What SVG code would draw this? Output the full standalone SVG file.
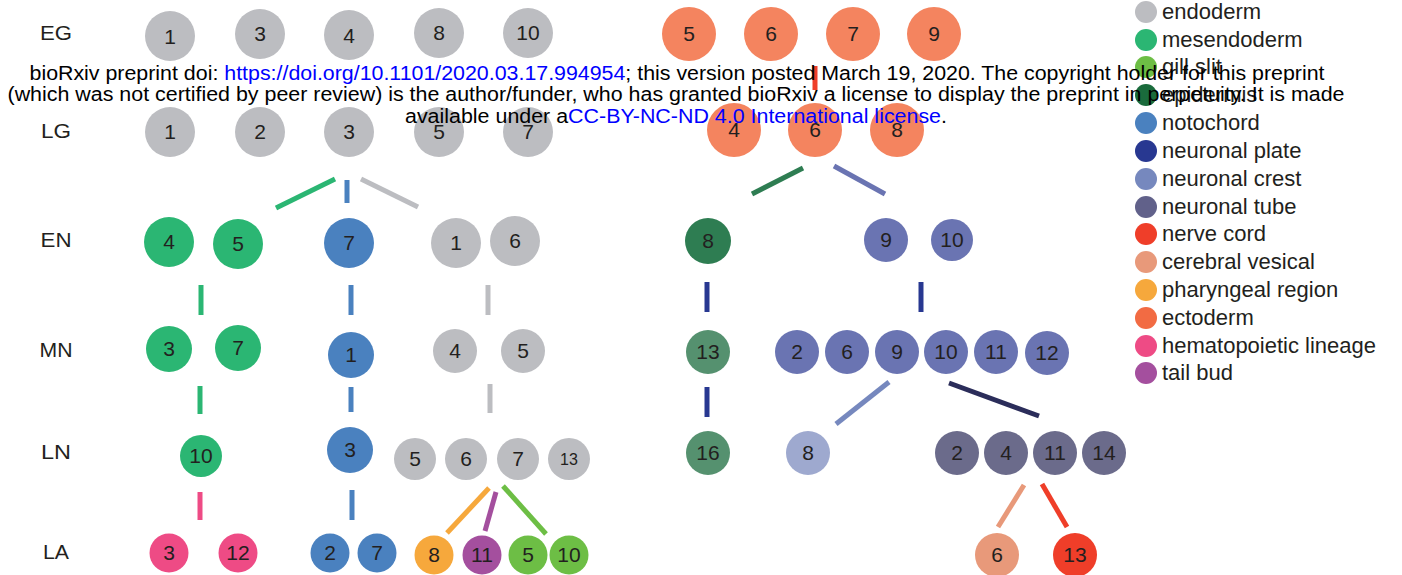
<svg xmlns="http://www.w3.org/2000/svg" width="1402" height="575" viewBox="0 0 1402 575">
<style>
text{font-family:"Liberation Sans",Arial,sans-serif;fill:#231f20}
.n text{font-size:21px;text-anchor:middle}
.lab{font-size:20px;text-anchor:middle}
.lg{font-size:22px}
.hd{font-size:20px;text-anchor:middle;fill:#000}
.ln{fill:#0000ff}
.c line{stroke-width:5;fill:none}
.en{fill:#bcbdc1}.me{fill:#2bb673}.gs{fill:#6dbe45}.ep{fill:#1a6b3c}.no{fill:#4a81bf}.np{fill:#283891}.nc{fill:#7688be}.nt{fill:#61618a}.cd{fill:#ef3e29}.cv{fill:#e8997a}.ph{fill:#f6a83c}.ec{fill:#f26b43}.he{fill:#ee4b85}.tb{fill:#a44f9e}
.ecn{fill:#f4845f}.epn{fill:#2e7d52}.epl{fill:#55916f}.ncm{fill:#6a74b2}.ncl{fill:#9ea9cf}.ntn{fill:#6b6b8b}
</style>
<rect width="1402" height="575" fill="#fff"/>
<g id="row-labels">
<text class="lab" x="56" y="40" textLength="32" lengthAdjust="spacingAndGlyphs">EG</text>
<text class="lab" x="56" y="138" textLength="30" lengthAdjust="spacingAndGlyphs">LG</text>
<text class="lab" x="56" y="247" textLength="31" lengthAdjust="spacingAndGlyphs">EN</text>
<text class="lab" x="56" y="357" textLength="33" lengthAdjust="spacingAndGlyphs">MN</text>
<text class="lab" x="56" y="459" textLength="30" lengthAdjust="spacingAndGlyphs">LN</text>
<text class="lab" x="56" y="559" textLength="26" lengthAdjust="spacingAndGlyphs">LA</text>
</g>
<g id="connectors" class="c">
<line x1="815" y1="66" x2="815" y2="90" stroke="#ef3e29" stroke-width="3"/>
<line x1="276" y1="208" x2="335" y2="179" stroke="#2bb673"/>
<line x1="347" y1="180" x2="347" y2="203" stroke="#4a81bf"/>
<line x1="361" y1="179" x2="418" y2="207" stroke="#bcbdc1"/>
<line x1="752" y1="194" x2="803" y2="168" stroke="#2e7d52"/>
<line x1="834" y1="166" x2="885" y2="194" stroke="#6a74b2"/>
<line x1="201" y1="285" x2="201" y2="315" stroke="#2bb673"/>
<line x1="351" y1="285" x2="351" y2="315" stroke="#4a81bf"/>
<line x1="488" y1="285" x2="488" y2="315" stroke="#bcbdc1"/>
<line x1="707" y1="282" x2="707" y2="312" stroke="#283891"/>
<line x1="921" y1="282" x2="921" y2="312" stroke="#283891"/>
<line x1="200" y1="386" x2="200" y2="414" stroke="#2bb673"/>
<line x1="351" y1="387" x2="351" y2="412" stroke="#4a81bf"/>
<line x1="490" y1="384" x2="490" y2="413" stroke="#bcbdc1"/>
<line x1="707" y1="387" x2="707" y2="417" stroke="#283891"/>
<line x1="889" y1="382" x2="836" y2="424" stroke="#7688be"/>
<line x1="949" y1="383" x2="1039" y2="416" stroke="#2b2d5a"/>
<line x1="200" y1="492" x2="200" y2="520" stroke="#ee4b85"/>
<line x1="352" y1="490" x2="352" y2="520" stroke="#4a81bf"/>
<line x1="489" y1="488" x2="447" y2="533" stroke="#f6a83c"/>
<line x1="496" y1="492" x2="485" y2="531" stroke="#a44f9e"/>
<line x1="503" y1="486" x2="546" y2="534" stroke="#6dbe45"/>
<line x1="1024" y1="485" x2="998" y2="527" stroke="#e8997a"/>
<line x1="1042" y1="484" x2="1067" y2="527" stroke="#ef3e29"/>
</g>
<g class="n">
<g id="eg1"><circle class="en" cx="170" cy="36" r="25"/><text x="170" y="44">1</text></g>
<g id="eg3"><circle class="en" cx="260" cy="34" r="25"/><text x="260" y="41">3</text></g>
<g id="eg4"><circle class="en" cx="349" cy="35" r="25"/><text x="349" y="43">4</text></g>
<g id="eg8"><circle class="en" cx="439" cy="33" r="25"/><text x="439" y="40">8</text></g>
<g id="eg10"><circle class="en" cx="528" cy="33" r="25"/><text x="528" y="40">10</text></g>
<g id="eg5"><circle class="ecn" cx="689" cy="34" r="27"/><text x="689" y="41">5</text></g>
<g id="eg6"><circle class="ecn" cx="771" cy="34" r="27"/><text x="771" y="41">6</text></g>
<g id="eg7"><circle class="ecn" cx="853" cy="34" r="27"/><text x="853" y="41">7</text></g>
<g id="eg9"><circle class="ecn" cx="934" cy="34" r="27"/><text x="934" y="41">9</text></g>
<g id="lg1"><circle class="en" cx="170" cy="132" r="25"/><text x="170" y="139">1</text></g>
<g id="lg2"><circle class="en" cx="260" cy="132" r="25"/><text x="260" y="139">2</text></g>
<g id="lg3"><circle class="en" cx="349" cy="132" r="25"/><text x="349" y="139">3</text></g>
<g id="lg5"><circle class="en" cx="439" cy="132" r="25"/><text x="439" y="139">5</text></g>
<g id="lg7"><circle class="en" cx="528" cy="132" r="25"/><text x="528" y="139">7</text></g>
<g id="lg4"><circle class="ecn" cx="734" cy="130" r="27"/><text x="734" y="137">4</text></g>
<g id="lg6"><circle class="ecn" cx="815" cy="130" r="27"/><text x="815" y="137">6</text></g>
<g id="lg8"><circle class="ecn" cx="897" cy="130" r="27"/><text x="897" y="137">8</text></g>
<g id="en4"><circle class="me" cx="169" cy="242" r="25"/><text x="169" y="249">4</text></g>
<g id="en5"><circle class="me" cx="238" cy="244" r="25"/><text x="238" y="251">5</text></g>
<g id="en7"><circle class="no" cx="349" cy="243" r="25"/><text x="349" y="250">7</text></g>
<g id="en1"><circle class="en" cx="456" cy="243" r="25"/><text x="456" y="250">1</text></g>
<g id="en6"><circle class="en" cx="515" cy="241" r="25"/><text x="515" y="248">6</text></g>
<g id="en8"><circle class="epn" cx="708" cy="241" r="23"/><text x="708" y="248">8</text></g>
<g id="en9"><circle class="ncm" cx="886" cy="240" r="22"/><text x="886" y="247">9</text></g>
<g id="en10"><circle class="ncm" cx="952" cy="240" r="21"/><text x="952" y="247">10</text></g>
<g id="mn3"><circle class="me" cx="169" cy="349" r="23"/><text x="169" y="356">3</text></g>
<g id="mn7"><circle class="me" cx="238" cy="348" r="23"/><text x="238" y="355">7</text></g>
<g id="mn1"><circle class="no" cx="351" cy="355" r="23"/><text x="351" y="362">1</text></g>
<g id="mn4"><circle class="en" cx="455" cy="351" r="22"/><text x="455" y="358">4</text></g>
<g id="mn5"><circle class="en" cx="523" cy="351" r="22"/><text x="523" y="358">5</text></g>
<g id="mn13"><circle class="epl" cx="708" cy="352" r="22"/><text x="708" y="359">13</text></g>
<g id="mn2"><circle class="ncm" cx="797" cy="352" r="22"/><text x="797" y="359">2</text></g>
<g id="mn6"><circle class="ncm" cx="847" cy="352" r="22"/><text x="847" y="359">6</text></g>
<g id="mn9"><circle class="ncm" cx="897" cy="352" r="22"/><text x="897" y="359">9</text></g>
<g id="mn10"><circle class="ncm" cx="946" cy="352" r="22"/><text x="946" y="359">10</text></g>
<g id="mn11"><circle class="ncm" cx="996" cy="352" r="22"/><text x="996" y="359">11</text></g>
<g id="mn12"><circle class="ncm" cx="1047" cy="353" r="22"/><text x="1047" y="360">12</text></g>
<g id="ln10"><circle class="me" cx="201" cy="456" r="21"/><text x="201" y="463">10</text></g>
<g id="ln3"><circle class="no" cx="350" cy="450" r="23"/><text x="350" y="457">3</text></g>
<g id="ln5"><circle class="en" cx="415" cy="459" r="21"/><text x="415" y="466">5</text></g>
<g id="ln6"><circle class="en" cx="466" cy="459" r="21"/><text x="466" y="466">6</text></g>
<g id="ln7"><circle class="en" cx="518" cy="459" r="21"/><text x="518" y="466">7</text></g>
<g id="ln13"><circle class="en" cx="569" cy="459" r="21"/><text x="569" y="465" style="font-size:16px">13</text></g>
<g id="ln16"><circle class="epl" cx="708" cy="453" r="22"/><text x="708" y="460">16</text></g>
<g id="ln8"><circle class="ncl" cx="808" cy="453" r="22"/><text x="808" y="460">8</text></g>
<g id="ln2"><circle class="ntn" cx="957" cy="453" r="22"/><text x="957" y="460">2</text></g>
<g id="ln4"><circle class="ntn" cx="1006" cy="453" r="22"/><text x="1006" y="460">4</text></g>
<g id="ln11"><circle class="ntn" cx="1055" cy="453" r="22"/><text x="1055" y="460">11</text></g>
<g id="ln14"><circle class="ntn" cx="1104" cy="453" r="22"/><text x="1104" y="460">14</text></g>
<g id="la3"><circle class="he" cx="169" cy="553" r="19.5"/><text x="169" y="560">3</text></g>
<g id="la12"><circle class="he" cx="238" cy="553" r="19.5"/><text x="238" y="560">12</text></g>
<g id="la2"><circle class="no" cx="330" cy="553" r="19.5"/><text x="330" y="560">2</text></g>
<g id="la7"><circle class="no" cx="377" cy="553" r="19.5"/><text x="377" y="560">7</text></g>
<g id="la8"><circle class="ph" cx="434" cy="555" r="19.5"/><text x="434" y="562">8</text></g>
<g id="la11"><circle class="tb" cx="482" cy="555" r="19.5"/><text x="482" y="562">11</text></g>
<g id="la5"><circle class="gs" cx="528" cy="555" r="19.5"/><text x="528" y="562">5</text></g>
<g id="la10"><circle class="gs" cx="569" cy="555" r="19.5"/><text x="569" y="562">10</text></g>
<g id="la6"><circle class="cv" cx="997" cy="555" r="22"/><text x="997" y="562">6</text></g>
<g id="la13"><circle class="cd" cx="1075" cy="555" r="22"/><text x="1075" y="562">13</text></g>
</g>
<g id="legend" class="lg">
<circle class="en" cx="1146" cy="12" r="11"/><text x="1162" y="19">endoderm</text>
<circle class="me" cx="1146" cy="40" r="11"/><text x="1162" y="47">mesendoderm</text>
<circle class="gs" cx="1146" cy="67" r="11"/><text x="1162" y="74">gill slit</text>
<circle class="ep" cx="1146" cy="95" r="11"/><text x="1162" y="102">epidermis</text>
<circle class="no" cx="1146" cy="123" r="11"/><text x="1162" y="130">notochord</text>
<circle class="np" cx="1146" cy="151" r="11"/><text x="1162" y="158">neuronal plate</text>
<circle class="nc" cx="1146" cy="179" r="11"/><text x="1162" y="186">neuronal crest</text>
<circle class="nt" cx="1146" cy="207" r="11"/><text x="1162" y="214">neuronal tube</text>
<circle class="cd" cx="1146" cy="234" r="11"/><text x="1162" y="241">nerve cord</text>
<circle class="cv" cx="1146" cy="262" r="11"/><text x="1162" y="269">cerebral vesical</text>
<circle class="ph" cx="1146" cy="290" r="11"/><text x="1162" y="297">pharyngeal region</text>
<circle class="ec" cx="1146" cy="318" r="11"/><text x="1162" y="325">ectoderm</text>
<circle class="he" cx="1146" cy="346" r="11"/><text x="1162" y="353">hematopoietic lineage</text>
<circle class="tb" cx="1146" cy="373" r="11"/><text x="1162" y="380">tail bud</text>
</g>
<g id="header">
<text class="hd" x="677" y="80" textLength="1295" lengthAdjust="spacingAndGlyphs">bioRxiv preprint doi: <tspan class="ln">https://doi.org/10.1101/2020.03.17.994954</tspan>; this version posted March 19, 2020. The copyright holder for this preprint</text>
<text class="hd" x="676" y="101" textLength="1337" lengthAdjust="spacingAndGlyphs">(which was not certified by peer review) is the author/funder, who has granted bioRxiv a license to display the preprint in perpetuity. It is made</text>
<text class="hd" x="676" y="123" textLength="542" lengthAdjust="spacingAndGlyphs">available under a<tspan class="ln">CC-BY-NC-ND 4.0 International license</tspan>.</text>
</g>
</svg>
